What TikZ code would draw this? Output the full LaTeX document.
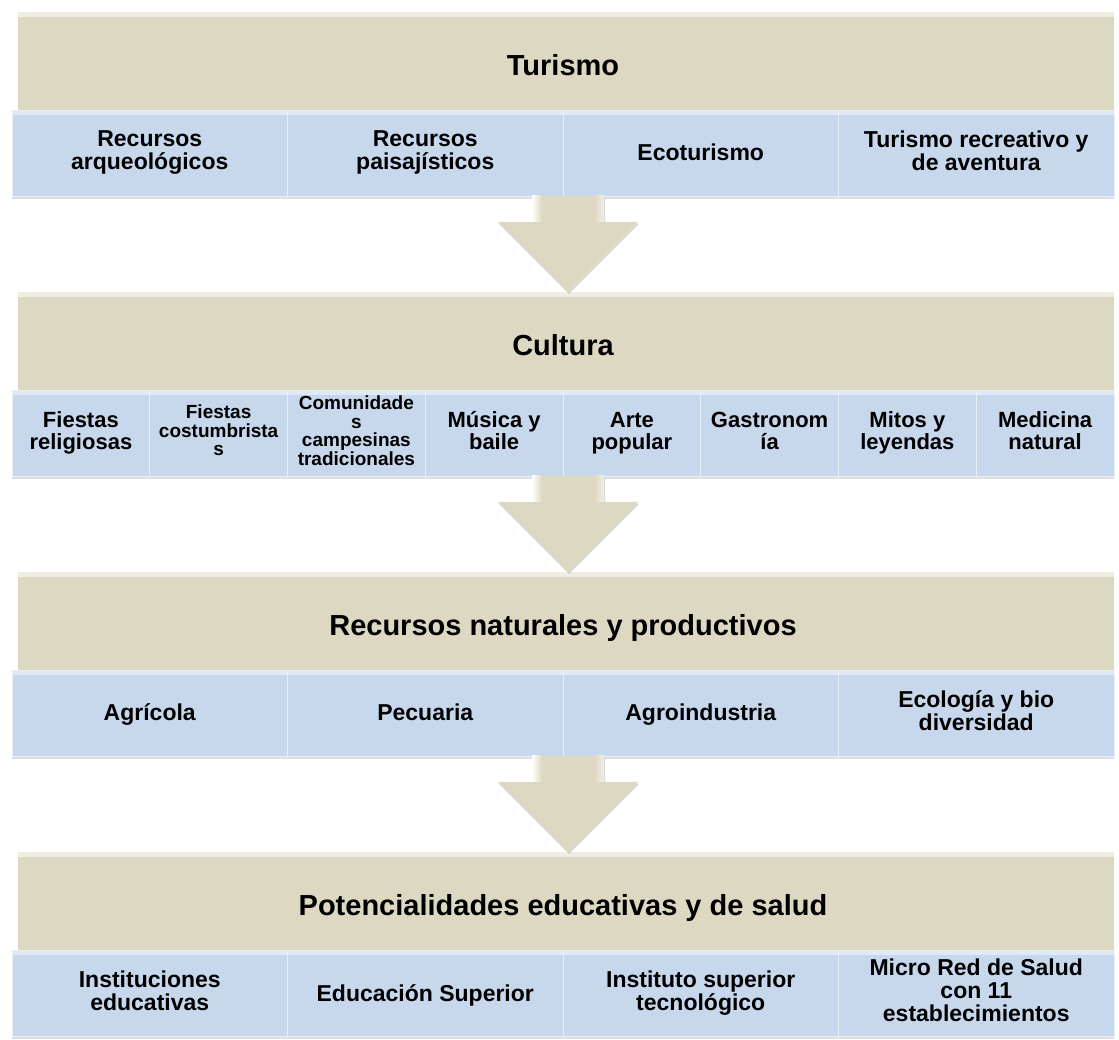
\documentclass[tikz,border=0pt]{standalone}
\usepackage{fontspec}
\setmainfont{Liberation Sans}
\usetikzlibrary{calc,positioning,shadows}
\definecolor{headtan}{HTML}{DDD8C2}
\definecolor{itemblue}{HTML}{C7D8EC}
\newcommand\itemstrut{\rule[-5pt]{0pt}{26pt}}
\tikzset{%
	head/.style     = {rectangle, fill=headtan, minimum width=1102pt, minimum height=98pt, inner sep=0pt, outer sep=0pt,
	                   text height=36pt, text depth=6pt, font=\fontsize{29}{32}\selectfont\bfseries,
	                   path picture={\fill[white] (path picture bounding box.north west) rectangle ($(path picture bounding box.south west)+(6,0)$);
	                                 \fill[headtan!45!white] ($(path picture bounding box.north west)+(6,0)$) rectangle ($(path picture bounding box.north east)+(0,-5)$);}},
	item/.style     = {rectangle, fill=itemblue, draw=itemblue!40!white, line width=.6pt, minimum height=86pt, inner sep=2pt, outer sep=0pt,
	                   align=center, font=\fontsize{23}{23}\selectfont\bfseries,
	                   execute at begin node=\itemstrut, execute at end node=\itemstrut,
	                   drop shadow={shadow xshift=0pt, shadow yshift=-3pt, opacity=.25},
	                   path picture={\fill[itemblue!55!white] (path picture bounding box.north west) rectangle ($(path picture bounding box.north east)+(0,-5)$);}},
	item4/.style    = {item, minimum width=275.5pt},
	item8/.style    = {item, minimum width=137.75pt, font=\fontsize{22}{22}\selectfont\bfseries},
	small/.style    = {font=\fontsize{19}{18.5}\selectfont\bfseries},
	flecha/.style   = {fill=headtan, drop shadow={shadow xshift=1pt, shadow yshift=-2pt, opacity=.3}},
}

\begin{document}
\begin{tikzpicture}[x=1pt,y=1pt,node distance=0pt]
	\useasboundingbox (0,0) rectangle (1119,1039);
	% Turismo
	\node [head] (tur) at (563,978) {Turismo};
	\node [item4,anchor=north west] (tur1) at (tur.south west) {Recursos\\arqueológicos};
	\node [item4] (tur2) [right=of tur1] {Recursos\\paisajísticos};
	\node [item4] (tur3) [right=of tur2] {Ecoturismo};
	\node [item4] (tur4) [right=of tur3] {Turismo recreativo y\\de aventura};
	
	% Cultura
	\node [head] (cul) at (563,698) {Cultura};
	\node [item8,anchor=north west] (cul1) at (cul.south west) {Fiestas\\religiosas};
	\node [item8,small] (cul2) [right=of cul1] {Fiestas\\costumbrista\\s};
	\node [item8,small] (cul3) [right=of cul2] {Comunidade\\s\\campesinas\\tradicionales};
	\node [item8] (cul4) [right=of cul3] {Música y\\baile};
	\node [item8] (cul5) [right=of cul4] {Arte\\popular};
	\node [item8] (cul6) [right=of cul5] {Gastronom\\ía};
	\node [item8] (cul7) [right=of cul6] {Mitos y\\leyendas};
	\node [item8] (cul8) [right=of cul7] {Medicina\\natural};
	
	% Recursos naturales
	\node [head] (rec) at (563,418) {Recursos naturales y productivos};
	\node [item4,anchor=north west] (rec1) at (rec.south west) {Agrícola};
	\node [item4] (rec2) [right=of rec1] {Pecuaria};
	\node [item4] (rec3) [right=of rec2] {Agroindustria};
	\node [item4] (rec4) [right=of rec3] {Ecología y bio\\diversidad};
	
	% Educacion y salud
	\node [head] (pot) at (563,138) {Potencialidades educativas y de salud};
	\node [item4,anchor=north west] (pot1) at (pot.south west) {Instituciones\\educativas};
	\node [item4] (pot2) [right=of pot1] {Educación Superior};
	\node [item4] (pot3) [right=of pot2] {Instituto superior\\tecnológico};
	\node [item4] (pot4) [right=of pot3] {Micro Red de Salud\\con 11\\establecimientos};
	
	% flechas
	\foreach \s/\h in {tur2/cul, cul4/rec, rec2/pot}{
		\coordinate (a) at ($(\s.south east)+(5,0)$);
		\coordinate (b) at ($(\h.north)+(5,0)$);
		\fill[flecha] ($(a)+(-36,0)$) -- ($(b)+(-36,70)$) -- ($(b)+(-70,70)$) -- (b) -- ($(b)+(70,70)$) -- ($(b)+(36,70)$) -- ($(a)+(36,0)$) -- cycle;
		\shade[left color=white, right color=headtan] ($(a)+(-36,0)$) rectangle ($(b)+(-26,70)$);
		\shade[left color=headtan, right color=headtan!40!white] ($(a)+(26,0)$) rectangle ($(b)+(36,70)$);
	}
\end{tikzpicture}
\end{document}
